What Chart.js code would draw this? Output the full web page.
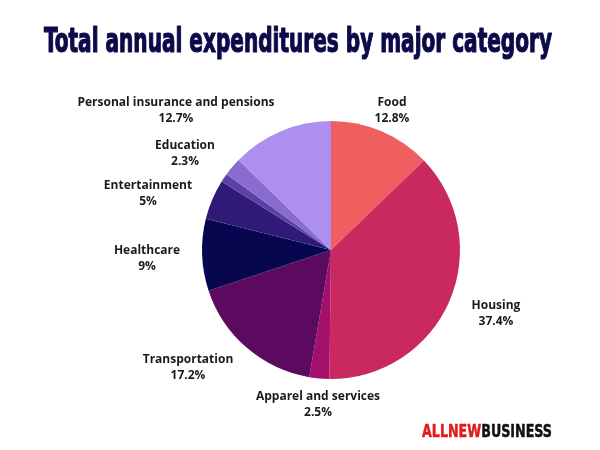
<!DOCTYPE html>
<html>
<head>
<meta charset="utf-8">
<script src="https://cdn.jsdelivr.net/npm/chart.js@4"></script>
<style>
  html, body { margin: 0; padding: 0; background: #fff; }
  #chart { display: block; }
</style>
</head>
<body>
<canvas id="chart" width="600" height="450"></canvas>
<script>
// data, clockwise from 12 o'clock
const categories = ["Food", "Housing", "Apparel and services", "Transportation", "Healthcare",
  "Entertainment", "", "Education", "Personal insurance and pensions"];
const shares = [12.8, 37.4, 2.5, 17.2, 9, 5, 1.1, 2.3, 12.7];
const shareLabels = ["12.8%", "37.4%", "2.5%", "17.2%", "9%", "5%", "", "2.3%", "12.7%"];
const titleText = "Total annual expenditures by major category";

const colors = ["#ef5f60", "#c9295e", "#a3106b", "#5b0a5f", "#070750",
  "#2f1a78", "#5b41a6", "#8a6ccf", "#ad8ff0"];

// where each label text sits (center x, y of first line)
const labelPos = [[392, 103], [496, 306], [318, 397], [188, 360], [147, 251],
  [148, 186], null, [185, 146], [176, 103]];

// draw text squeezed to a given width (condensed look)
function fitText(ctx, parts, x, y, w, font, bold) {
    ctx.font = font;
    let total = 0;
    parts.forEach(p => total += ctx.measureText(p[0]).width);
    ctx.save();
    ctx.translate(x, y);
    ctx.scale(w / total, 1);
    let cx = 0;
    parts.forEach(p => {
        ctx.fillStyle = p[1];
        ctx.fillText(p[0], cx, 0);
        if (bold) {
            ctx.strokeStyle = p[1];
            ctx.lineWidth = bold;
            ctx.lineJoin = "round";
            ctx.strokeText(p[0], cx, 0);
        }
        cx += ctx.measureText(p[0]).width;
    });
    ctx.restore();
}

const labelPlugin = {
    id: "labels",
    afterDraw(chart) {
        const ctx = chart.ctx;
        ctx.save();
        ctx.fillStyle = "#1a1a1a";
        ctx.font = "bold 12px 'Open Sans'";
        ctx.textAlign = "center";
        ctx.textBaseline = "middle";
        categories.forEach((c, i) => {
            const p = labelPos[i];
            if (!p || !c) return;
            ctx.fillText(c, p[0], p[1]);
            ctx.fillText(shareLabels[i], p[0], p[1] + 16);
        });
        ctx.textAlign = "left";
        ctx.textBaseline = "alphabetic";
        fitText(ctx, [[titleText, "#0b0b4a"]], 44, 52, 508, "bold 33px 'DejaVu Sans Condensed'", 1.2);
        fitText(ctx, [["ALLNEW", "#e31b1b"], ["BUSINESS", "#111111"]], 422, 437, 130,
            "bold 18px 'DejaVu Sans Condensed'", 0.5);
        ctx.restore();
    }
};

const ctx = document.getElementById("chart").getContext("2d");
new Chart(ctx, {
    type: "pie",
    data: {
        labels: categories,
        datasets: [{ data: shares, backgroundColor: colors, borderWidth: 0 }]
    },
    options: {
        responsive: false,
        animation: false,
        layout: { padding: { top: 121, bottom: 71, left: 202, right: 140 } },
        plugins: { legend: { display: false }, tooltip: { enabled: false } }
    },
    plugins: [labelPlugin]
});
</script>
</body>
</html>
